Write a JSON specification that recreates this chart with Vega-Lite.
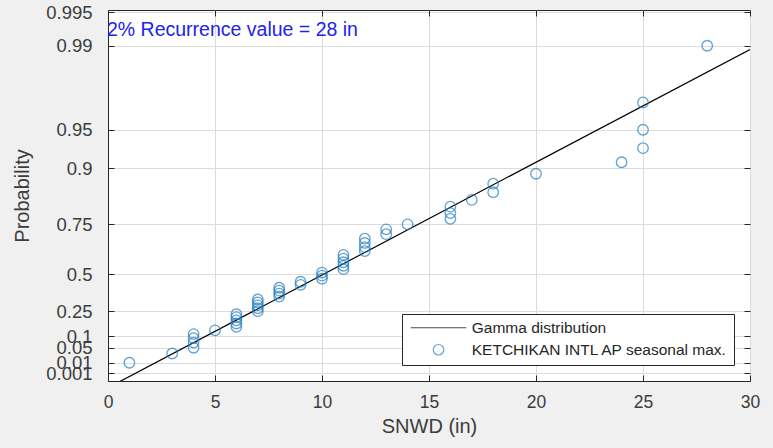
{
  "$schema": "https://vega.github.io/schema/vega-lite/v6.json",
  "width": 642,
  "height": 371,
  "autosize": {"type": "none"},
  "padding": {"left": 108, "top": 10, "right": 23, "bottom": 67},
  "background": "#f0f0f0",
  "config": {
    "font": "Liberation Sans",
    "view": {"fill": "white", "stroke": "#262626", "strokeWidth": 1},
    "axis": {
      "domainColor": "#262626",
      "tickColor": "#262626",
      "tickSize": -6,
      "tickWidth": 1,
      "gridColor": "#dcdcdc",
      "gridWidth": 1,
      "labelFont": "Liberation Sans",
      "labelFontSize": 17.5,
      "labelColor": "#3c3c3c",
      "titleFont": "Liberation Sans",
      "titleFontSize": 20,
      "titleFontWeight": "normal",
      "titleColor": "#3c3c3c",
      "labelOverlap": false,
      "labelFlush": false,
      "labelBound": false
    },
    "legend": {
      "orient": "bottom-right",
      "offset": 16,
      "strokeColor": "#262626",
      "fillColor": "white",
      "padding": 6,
      "labelFont": "Liberation Sans",
      "labelFontSize": 15.5,
      "labelColor": "#262626",
      "labelLimit": 400,
      "rowPadding": 5,
      "symbolSize": 110,
      "symbolStrokeWidth": 1.2,
      "symbolOffset": 22.75,
      "labelOffset": 25.5
    }
  },
  "datasets": {
    "fit": [
      {"x": 0, "q": 0},
      {"x": 30, "q": 30}
    ],
    "obs": [
      {"x": 1, "p": 0.01, "q": 2.22},
      {"x": 3, "p": 0.03, "q": 3.04},
      {"x": 4, "p": 0.05, "q": 3.55},
      {"x": 4, "p": 0.07, "q": 4.01},
      {"x": 4, "p": 0.09, "q": 4.40},
      {"x": 4, "p": 0.11, "q": 4.76},
      {"x": 5, "p": 0.13, "q": 5.09},
      {"x": 6, "p": 0.15, "q": 5.40},
      {"x": 6, "p": 0.17, "q": 5.70},
      {"x": 6, "p": 0.19, "q": 5.98},
      {"x": 6, "p": 0.21, "q": 6.26},
      {"x": 6, "p": 0.23, "q": 6.52},
      {"x": 7, "p": 0.25, "q": 6.79},
      {"x": 7, "p": 0.27, "q": 7.05},
      {"x": 7, "p": 0.29, "q": 7.31},
      {"x": 7, "p": 0.31, "q": 7.57},
      {"x": 7, "p": 0.33, "q": 7.83},
      {"x": 8, "p": 0.35, "q": 8.09},
      {"x": 8, "p": 0.37, "q": 8.35},
      {"x": 8, "p": 0.39, "q": 8.61},
      {"x": 8, "p": 0.41, "q": 8.87},
      {"x": 9, "p": 0.43, "q": 9.13},
      {"x": 9, "p": 0.45, "q": 9.40},
      {"x": 10, "p": 0.47, "q": 9.67},
      {"x": 10, "p": 0.49, "q": 9.94},
      {"x": 10, "p": 0.51, "q": 10.22},
      {"x": 11, "p": 0.53, "q": 10.52},
      {"x": 11, "p": 0.55, "q": 10.82},
      {"x": 11, "p": 0.57, "q": 11.13},
      {"x": 11, "p": 0.59, "q": 11.45},
      {"x": 11, "p": 0.61, "q": 11.78},
      {"x": 12, "p": 0.63, "q": 12.12},
      {"x": 12, "p": 0.65, "q": 12.47},
      {"x": 12, "p": 0.67, "q": 12.84},
      {"x": 12, "p": 0.69, "q": 13.22},
      {"x": 13, "p": 0.71, "q": 13.62},
      {"x": 13, "p": 0.73, "q": 14.05},
      {"x": 14, "p": 0.75, "q": 14.49},
      {"x": 16, "p": 0.77, "q": 14.98},
      {"x": 16, "p": 0.79, "q": 15.49},
      {"x": 16, "p": 0.81, "q": 16.06},
      {"x": 17, "p": 0.83, "q": 16.66},
      {"x": 18, "p": 0.85, "q": 17.34},
      {"x": 18, "p": 0.87, "q": 18.10},
      {"x": 20, "p": 0.89, "q": 18.98},
      {"x": 24, "p": 0.91, "q": 20.00},
      {"x": 25, "p": 0.93, "q": 21.25},
      {"x": 25, "p": 0.95, "q": 22.88},
      {"x": 25, "p": 0.97, "q": 25.30},
      {"x": 28, "p": 0.99, "q": 30.33}
    ],
    "note": [
      {"x": 0, "q": 31.75, "label": "2% Recurrence value = 28 in"}
    ]
  },
  "resolve": {"axis": {"x": "independent", "y": "independent"}},
  "layer": [
    {
      "data": {"name": "fit"},
      "mark": {"type": "line", "color": "black", "strokeWidth": 1.2, "clip": true},
      "encoding": {
        "x": {
          "field": "x", "type": "quantitative",
          "scale": {"domain": [0, 30], "nice": false, "zero": false},
          "axis": {"values": [0, 5, 10, 15, 20, 25, 30], "title": "SNWD (in)", "labelPadding": 18, "titlePadding": 6, "grid": true}
        },
        "y": {
          "field": "q", "type": "quantitative",
          "scale": {"domain": [0.6, 33.5], "nice": false, "zero": false},
          "axis": {
            "values": [1.28, 2.22, 3.55, 4.58, 6.79, 10.07, 14.49, 19.48, 22.88, 30.33, 33.3],
            "labelExpr": "datum.value < 1.5 ? '0.001' : datum.value < 2.5 ? '0.01' : datum.value < 4 ? '0.05' : datum.value < 5 ? '0.1' : datum.value < 8 ? '0.25' : datum.value < 12 ? '0.5' : datum.value < 17 ? '0.75' : datum.value < 21 ? '0.9' : datum.value < 26 ? '0.95' : datum.value < 32 ? '0.99' : '0.995'",
            "title": "Probability",
            "labelFontSize": 18.5,
            "labelPadding": 22,
            "titlePadding": 13,
            "grid": true
          }
        }
      }
    },
    {
      "data": {"name": "obs"},
      "mark": {"type": "point", "filled": false, "size": 110, "strokeWidth": 1.3},
      "encoding": {
        "x": {"field": "x", "type": "quantitative", "axis": null},
        "y": {"field": "q", "type": "quantitative", "axis": null},
        "color": {
          "datum": "KETCHIKAN INTL AP seasonal max.",
          "type": "nominal",
          "scale": {"domain": ["Gamma distribution", "KETCHIKAN INTL AP seasonal max."], "range": ["#000000", "#1f7cbf"]},
          "legend": {"title": null}
        },
        "shape": {
          "datum": "KETCHIKAN INTL AP seasonal max.",
          "type": "nominal",
          "scale": {"domain": ["Gamma distribution", "KETCHIKAN INTL AP seasonal max."], "range": ["M-5.3,0L5.3,0", "circle"]},
          "legend": {"title": null}
        },
        "tooltip": [
          {"field": "x", "type": "quantitative", "title": "SNWD (in)"},
          {"field": "p", "type": "quantitative", "title": "Probability"}
        ]
      }
    },
    {
      "data": {"name": "note"},
      "mark": {"type": "text", "align": "left", "baseline": "middle", "font": "Liberation Sans", "fontSize": 19.5, "color": "#2222ee", "dx": -1},
      "encoding": {
        "x": {"field": "x", "type": "quantitative", "axis": {"orient": "top", "labels": false, "grid": false, "domain": false, "title": null, "values": [0, 5, 10, 15, 20, 25, 30]}},
        "y": {"field": "q", "type": "quantitative", "axis": {"orient": "right", "labels": false, "grid": false, "domain": false, "title": null, "values": [1.28, 2.22, 3.55, 4.58, 6.79, 10.07, 14.49, 19.48, 22.88, 30.33, 33.3]}},
        "text": {"field": "label"}
      }
    }
  ]
}
